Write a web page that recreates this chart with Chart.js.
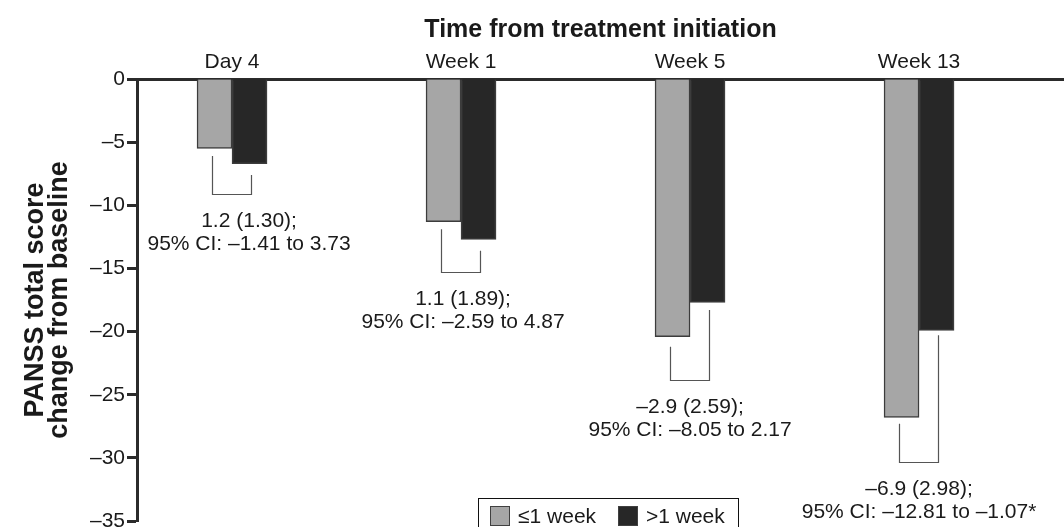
<!DOCTYPE html>
<html>
<head>
<meta charset="utf-8">
<script src="https://cdn.jsdelivr.net/npm/chart.js@4.4.1/dist/chart.umd.min.js"></script>
<style>
  html, body { margin: 0; padding: 0; background: #fff; }
  #wrap { width: 1064px; height: 527px; position: relative; }
</style>
</head>
<body>
<div id="wrap"><canvas id="chart"></canvas></div>
<script>
// data
const timepoints = ['Day 4', 'Week 1', 'Week 5', 'Week 13'];
const seriesNames = ['\u22641 week', '>1 week'];
const shortGroup = [-5.5, -11.3, -20.4, -26.8];
const longGroup = [-6.7, -12.7, -17.7, -19.9];
const yTicks = [0, -5, -10, -15, -20, -25, -30, -35];

// comparison brackets (y values on the score axis)
const bracketShortTop = [-6.1, -11.9, -21.2, -27.3];
const bracketLongTop = [-7.6, -13.6, -18.3, -20.3];
const bracketBottom = [-9.1, -15.3, -23.8, -30.3];
const diffLabels = ['1.2 (1.30);', '1.1 (1.89);', '\u20132.9 (2.59);', '\u20136.9 (2.98);'];
const ciLabels = [
    '95% CI: \u20131.41 to 3.73',
    '95% CI: \u20132.59 to 4.87',
    '95% CI: \u20138.05 to 2.17',
    '95% CI: \u201312.81 to \u20131.07*'
];

const FONT = "'Liberation Sans', Arial, Helvetica, sans-serif";
const INK = '#1a1a1a';
const AXIS = '#2b2b2b';
const GREY = '#a6a6a6';
const DARK = '#272727';

function dashMinus(v) {
    return v < 0 ? '\u2013' + Math.abs(v) : String(v);
}

// little horizontal nudges for the note text
const noteShift = [17, 2, 0, 0];

const bracketPlugin = {
    id: 'brackets',
    afterDatasetsDraw(chart) {
        const ctx = chart.ctx;
        const y = chart.scales.y;
        const x = chart.scales.x;
        const shortBars = chart.getDatasetMeta(0).data;
        const longBars = chart.getDatasetMeta(1).data;
        ctx.save();
        ctx.strokeStyle = '#555555';
        ctx.lineWidth = 1.2;
        ctx.fillStyle = INK;
        ctx.font = '21px ' + FONT;
        ctx.textAlign = 'center';
        ctx.textBaseline = 'middle';
        timepoints.forEach((t, i) => {
            const x1 = Math.round(shortBars[i].x - 3) + 0.5;
            const x2 = Math.round(longBars[i].x + 1) + 0.5;
            const yb = Math.round(y.getPixelForValue(bracketBottom[i])) + 0.5;
            ctx.beginPath();
            ctx.moveTo(x1, y.getPixelForValue(bracketShortTop[i]));
            ctx.lineTo(x1, yb);
            ctx.lineTo(x2, yb);
            ctx.lineTo(x2, y.getPixelForValue(bracketLongTop[i]));
            ctx.stroke();
            const cx = x.getPixelForValue(i) + noteShift[i];
            ctx.fillText(diffLabels[i], cx, yb + 27);
            ctx.fillText(ciLabels[i], cx, yb + 50);
        });
        ctx.restore();
    }
};

const boxLegend = {
    id: 'boxLegend',
    afterDraw(chart) {
        const ctx = chart.ctx;
        const swatchX = [490, 618];
        ctx.save();
        ctx.strokeStyle = '#111111';
        ctx.lineWidth = 1;
        ctx.strokeRect(478.5, 498.5, 260, 40);
        ctx.font = '21px ' + FONT;
        ctx.textBaseline = 'middle';
        ctx.textAlign = 'left';
        chart.data.datasets.forEach((ds, i) => {
            ctx.fillStyle = ds.backgroundColor;
            ctx.fillRect(swatchX[i], 506, 20, 20);
            ctx.strokeStyle = '#404040';
            ctx.strokeRect(swatchX[i] + 0.5, 506.5, 19, 19);
            ctx.fillStyle = INK;
            ctx.fillText(ds.label, swatchX[i] + 28, 517);
        });
        ctx.restore();
    }
};

const ctx = document.getElementById('chart').getContext('2d');
const chart = new Chart(ctx, {
    type: 'bar',
    data: {
        datasets: [{
            label: seriesNames[0],
            data: shortGroup.map((v, i) => ({ x: i, y: v })),
            backgroundColor: GREY,
            borderColor: '#3c3c3c',
            borderWidth: 1.5,
        }, {
            label: seriesNames[1],
            data: longGroup.map((v, i) => ({ x: i, y: v })),
            backgroundColor: DARK,
            borderColor: '#3c3c3c',
            borderWidth: 1.5,
        }]
    },
    options: {
        responsive: true,
        maintainAspectRatio: false,
        animation: false,
        barThickness: 35,
        layout: { padding: { left: 0, right: 0, top: 0, bottom: 6 } },
        plugins: {
            legend: { display: false },
            tooltip: { enabled: false },
        },
        scales: {
            x: {
                type: 'linear',
                position: 'top',
                offset: false,
                min: -0.415,
                max: 3.633,
                afterBuildTicks: (s) => { s.ticks = timepoints.map((t, i) => ({ value: i })); },
                afterFit: (s) => { s.height = 79; s.paddingLeft = 0; s.paddingRight = 0; },
                grid: { display: false, drawTicks: false, offset: false },
                border: { display: true, color: AXIS, width: 3 },
                ticks: {
                    callback: (v) => timepoints[v],
                    font: { family: FONT, size: 21 },
                    color: INK,
                    padding: 4,
                    maxRotation: 0,
                    autoSkip: false,
                },
                title: {
                    display: true,
                    text: 'Time from treatment initiation',
                    font: { family: FONT, size: 25, weight: 'bold' },
                    color: INK,
                    padding: { top: 15, bottom: 0 },
                }
            },
            y: {
                min: -35,
                max: 0,
                afterBuildTicks: (s) => { s.ticks = yTicks.map((v) => ({ value: v })); },
                afterFit: (s) => { s.width = 137; s.paddingTop = 0; s.paddingBottom = 0; },
                grid: {
                    display: true,
                    drawOnChartArea: false,
                    drawTicks: true,
                    tickLength: 10,
                    tickWidth: 3,
                    tickColor: AXIS,
                },
                border: { display: true, color: AXIS, width: 3 },
                ticks: {
                    callback: (v) => dashMinus(v),
                    font: { family: FONT, size: 21 },
                    color: INK,
                    padding: 2,
                },
                title: {
                    display: true,
                    text: ['PANSS total score', 'change from baseline'],
                    font: { family: FONT, size: 27, weight: 'bold', lineHeight: '24px' },
                    color: INK,
                    padding: { top: 24, bottom: 0 },
                }
            }
        }
    },
    plugins: [bracketPlugin, boxLegend]
});
</script>
</body>
</html>
